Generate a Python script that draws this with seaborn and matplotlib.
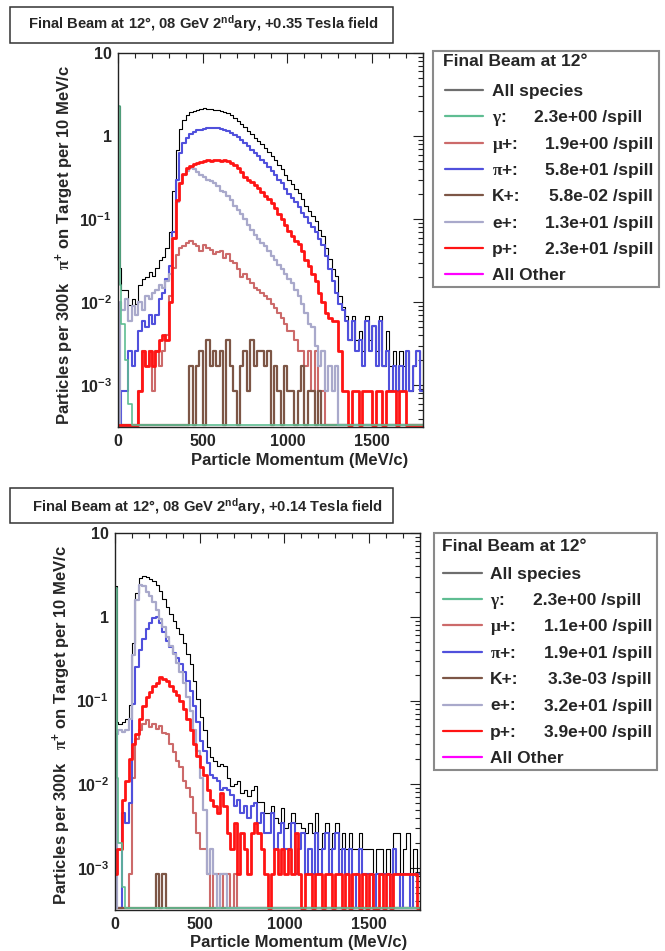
import numpy as np
import pandas as pd
import matplotlib
matplotlib.use("Agg")
import matplotlib.pyplot as plt
import seaborn as sns
from matplotlib import font_manager
from matplotlib.lines import Line2D
from matplotlib.patches import Rectangle
from matplotlib.ticker import FixedLocator, MultipleLocator, LogLocator, NullFormatter, FixedFormatter

# ---------------------------------------------------------------- data
# bin edges in MeV/c (first two bins 10 MeV wide, then 20 MeV)
EDGES = [0, 10] + list(range(20, 1801, 20))

SPECIES = ["All species", "γ:", "μ+:", "π+:", "K+:", "e+:", "p+:", "All Other"]
FIELDS = ["+0.35", "+0.14"]
RATES_035 = [2.3e+00, 1.9e+00, 5.8e+01, 5.8e-02, 1.3e+01, 2.3e+01]
RATES_014 = [2.3e+00, 1.1e+00, 1.9e+01, 3.3e-03, 3.2e+01, 3.9e+00]

XTICKS = [0, 500, 1000, 1500]
XTICKLABELS = ["0", "500", "1000", "1500"]
YTICKS = [1e-3, 1e-2, 1e-1, 1, 10]
YTICKLABELS = ["10$^{-3}$", "10$^{-2}$", "10$^{-1}$", "1", "10"]

# ---- +0.35 Tesla field
T35_ALL = [2.3, 0.026, 0.014, 0.014, 0.0092, 0.011, 0.0096, 0.016, 0.019, 0.020,
           0.023, 0.021, 0.026, 0.032, 0.035, 0.045, 0.07, 0.22, 0.68, 1.22,
           1.56, 1.79, 1.96, 2.03, 2.07, 2.1, 2.15, 2.14, 2.1, 2.09,
           2.05, 1.99, 1.96, 1.9, 1.78, 1.65, 1.54, 1.41, 1.27, 1.16,
           1.06, 0.96, 0.88, 0.80, 0.72, 0.65, 0.58, 0.52, 0.45, 0.40,
           0.34, 0.30, 0.264, 0.23, 0.205, 0.174, 0.146, 0.125, 0.108, 0.094,
           0.074, 0.062, 0.045, 0.033, 0.025, 0.021, 0.012, 0.0089, 0.0069, 0.0035,
           0.0069, 0.0035, 0.0045, 0.0026, 0.0069, 0.0035, 0.0052, 0.0026, 0.0069, 0.0017,
           0.0045, 0.0017, 0.0026, 0.00086, 0.0026, 0.0017, 0.0026, 0.00086, 0.0017, 0.0026,
           0.00086]
T35_GAMMA = [2.3, 0.016, 0.0055, 0.002, 0.0006, 0, 0, 0, 0, 0,
             0, 0, 0, 0, 0, 0, 0, 0, 0, 0,
             0, 0, 0, 0, 0, 0, 0, 0, 0, 0,
             0, 0, 0, 0, 0, 0, 0, 0, 0, 0,
             0, 0, 0, 0, 0, 0, 0, 0, 0, 0,
             0, 0, 0, 0, 0, 0, 0, 0, 0, 0,
             0, 0, 0, 0, 0, 0, 0, 0, 0, 0,
             0, 0, 0, 0, 0, 0, 0, 0, 0, 0,
             0, 0, 0, 0, 0, 0, 0, 0, 0, 0,
             0]
T35_MU = [0, 0, 0, 0, 0, 0, 0, 0.00086, 0.0026, 0.0017,
          0.0026, 0.00086, 0.0026, 0.0017, 0.0026, 0.004, 0.012, 0.026, 0.037, 0.045,
          0.048, 0.052, 0.055, 0.05, 0.047, 0.042, 0.049, 0.045, 0.043, 0.038,
          0.04, 0.041, 0.034, 0.038, 0.031, 0.03, 0.025, 0.02, 0.022, 0.019,
          0.017, 0.015, 0.014, 0.013, 0.012, 0.011, 0.0095, 0.0085, 0.0075, 0.0065,
          0.0055, 0.0045, 0.0045, 0.0035, 0.0026, 0.0026, 0.0017, 0.0026, 0.00086, 0.0026,
          0.00086, 0.00086, 0, 0, 0, 0, 0, 0, 0, 0,
          0, 0, 0, 0, 0, 0, 0, 0, 0, 0,
          0, 0, 0, 0, 0, 0, 0, 0, 0, 0,
          0]
T35_PI = [0, 0, 0.00086, 0.00086, 0.0026, 0.0017, 0.0026, 0.0045, 0.006, 0.005,
          0.007, 0.0055, 0.007, 0.011, 0.013, 0.019, 0.027, 0.07, 0.3, 0.62,
          0.82, 0.95, 1.05, 1.12, 1.17, 1.2, 1.23, 1.25, 1.24, 1.25,
          1.24, 1.22, 1.2, 1.16, 1.1, 1.03, 0.97, 0.9, 0.83, 0.76,
          0.69, 0.62, 0.57, 0.52, 0.47, 0.42, 0.38, 0.34, 0.3, 0.27,
          0.23, 0.2, 0.18, 0.16, 0.14, 0.12, 0.105, 0.09, 0.08, 0.07,
          0.058, 0.049, 0.036, 0.025, 0.018, 0.013, 0.0095, 0.008, 0.006, 0.0035,
          0.006, 0.0026, 0.0035, 0.0017, 0.006, 0.0026, 0.0052, 0.0017, 0.006, 0.0017,
          0.0026, 0.00086, 0.0017, 0.00086, 0.0017, 0.00086, 0.0026, 0.00086, 0.0017, 0.0026,
          0.00086]
T35_K = [0, 0, 0, 0, 0, 0, 0, 0, 0, 0,
         0, 0, 0, 0, 0, 0, 0, 0, 0, 0,
         0, 0, 0.0017, 0, 0.0017, 0.0026, 0, 0.0035, 0.0017, 0.0026,
         0.0017, 0.0026, 0, 0.0035, 0.0017, 0.00086, 0, 0.0017, 0.0026, 0.00086,
         0.0035, 0.0017, 0.0026, 0.0026, 0.0017, 0.0026, 0, 0.0017, 0.00086, 0,
         0.0017, 0.00086, 0.00086, 0, 0.00086, 0.0017, 0, 0.00086, 0.00086, 0,
         0.00086, 0, 0, 0, 0, 0, 0, 0, 0, 0,
         0, 0, 0, 0, 0, 0, 0, 0, 0, 0,
         0, 0, 0, 0, 0, 0, 0, 0, 0, 0,
         0]
T35_E = [0, 0.01, 0.008, 0.011, 0.006, 0.009, 0.007, 0.01, 0.008, 0.012,
         0.011, 0.013, 0.014, 0.016, 0.015, 0.018, 0.022, 0.06, 0.16, 0.27,
         0.34, 0.38, 0.41, 0.4, 0.37, 0.34, 0.32, 0.3, 0.29, 0.27,
         0.25, 0.22, 0.21, 0.19, 0.17, 0.145, 0.13, 0.115, 0.1, 0.085,
         0.075, 0.065, 0.058, 0.052, 0.047, 0.042, 0.036, 0.032, 0.028, 0.025,
         0.022, 0.019, 0.017, 0.014, 0.012, 0.0095, 0.0075, 0.0055, 0.005, 0.003,
         0.0017, 0.0026, 0.00086, 0.0017, 0.00086, 0.0017, 0, 0, 0, 0,
         0, 0, 0, 0, 0, 0, 0, 0, 0, 0,
         0, 0, 0, 0, 0, 0, 0, 0, 0, 0,
         0]
T35_P = [0, 0, 0, 0, 0, 0, 0, 0.00086, 0.0026, 0.0017,
         0.0026, 0.0017, 0.0026, 0.0035, 0.004, 0.0035, 0.01, 0.06, 0.17, 0.27,
         0.35, 0.41, 0.44, 0.46, 0.48, 0.49, 0.5, 0.51, 0.5, 0.52,
         0.51, 0.5, 0.52, 0.5, 0.48, 0.45, 0.41, 0.37, 0.32, 0.3,
         0.28, 0.26, 0.24, 0.21, 0.19, 0.175, 0.155, 0.135, 0.115, 0.1,
         0.085, 0.072, 0.062, 0.054, 0.05, 0.042, 0.032, 0.027, 0.022, 0.018,
         0.013, 0.01, 0.0075, 0.0065, 0.006, 0.006, 0.0026, 0.00086, 0.00086, 0,
         0.00086, 0.00086, 0, 0.00086, 0.00086, 0.00086, 0, 0.00086, 0.00086, 0,
         0.00086, 0.00086, 0.00086, 0, 0.00086, 0.00086, 0, 0, 0, 0,
         0]

# ---- +0.14 Tesla field
T14_ALL = [2.3, 0.055, 0.052, 0.055, 0.06, 0.088, 0.48, 1.93, 2.9, 3.05,
           2.95, 2.8, 2.67, 2.42, 2.05, 1.63, 1.31, 1.07, 0.89, 0.74,
           0.62, 0.48, 0.36, 0.27, 0.17, 0.105, 0.063, 0.045, 0.028, 0.021,
           0.019, 0.0165, 0.0175, 0.0165, 0.012, 0.0095, 0.01, 0.011, 0.0078, 0.0085,
           0.0072, 0.0085, 0.0095, 0.0062, 0.0062, 0.0045, 0.0045, 0.0055, 0.004, 0.0035,
           0.0052, 0.003, 0.0035, 0.0045, 0.0035, 0.0035, 0.003, 0.0026, 0.0035, 0.0026,
           0.0045, 0.0017, 0.0026, 0.0035, 0.0017, 0.0026, 0.0035, 0.0017, 0.0026, 0.0017,
           0.0026, 0.0017, 0.0017, 0.0026, 0.0017, 0.0017, 0.0017, 0.00086, 0.0017, 0.0017,
           0.00086, 0.0017, 0.00086, 0.0026, 0.0026, 0.00086, 0.0017, 0.0026, 0.00086, 0.0017,
           0.00086]
T14_GAMMA = [2.2, 0.012, 0.002, 0.0006, 0, 0, 0, 0, 0, 0,
             0, 0, 0, 0, 0, 0, 0, 0, 0, 0,
             0, 0, 0, 0, 0, 0, 0, 0, 0, 0,
             0, 0, 0, 0, 0, 0, 0, 0, 0, 0,
             0, 0, 0, 0, 0, 0, 0, 0, 0, 0,
             0, 0, 0, 0, 0, 0, 0, 0, 0, 0,
             0, 0, 0, 0, 0, 0, 0, 0, 0, 0,
             0, 0, 0, 0, 0, 0, 0, 0, 0, 0,
             0, 0, 0, 0, 0, 0, 0, 0, 0, 0,
             0]
T14_MU = [0, 0, 0, 0, 0, 0.00086, 0.012, 0.035, 0.045, 0.052,
          0.058, 0.048, 0.053, 0.046, 0.05, 0.041, 0.04, 0.03, 0.024, 0.019,
          0.016, 0.011, 0.009, 0.007, 0.0045, 0.0026, 0.0017, 0.0017, 0.00086, 0,
          0.00086, 0.00086, 0, 0.00086, 0.00086, 0, 0.00086, 0, 0, 0,
          0, 0, 0, 0, 0, 0, 0, 0, 0, 0,
          0, 0, 0, 0, 0, 0, 0, 0, 0, 0,
          0, 0, 0, 0, 0, 0, 0, 0, 0, 0,
          0, 0, 0, 0, 0, 0, 0, 0, 0, 0,
          0, 0, 0, 0, 0, 0, 0, 0, 0, 0,
          0]
T14_PI = [0, 0, 0, 0.0045, 0.0035, 0.006, 0.09, 0.25, 0.4, 0.55,
          0.72, 0.85, 0.97, 1.0, 0.85, 0.65, 0.52, 0.43, 0.37, 0.32,
          0.27, 0.22, 0.17, 0.13, 0.085, 0.055, 0.033, 0.025, 0.018, 0.013,
          0.012, 0.011, 0.0085, 0.009, 0.0085, 0.0075, 0.0055, 0.0065, 0.0045, 0.0055,
          0.004, 0.0055, 0.006, 0.0035, 0.0045, 0.0026, 0.0026, 0.0045, 0.0017, 0.0026,
          0.0035, 0.0017, 0.0017, 0.0035, 0.00086, 0.0017, 0.0026, 0.00086, 0.0017, 0.00086,
          0.0026, 0.00086, 0.0017, 0.0026, 0.00086, 0.0017, 0.0026, 0.00086, 0.0017, 0.00086,
          0.0017, 0, 0.00086, 0.0017, 0.00086, 0.00086, 0.00086, 0, 0.00086, 0.00086,
          0.00086, 0.00086, 0, 0.0017, 0.00086, 0, 0.00086, 0.00086, 0, 0.00086,
          0.00086]
T14_K = [0, 0, 0, 0, 0, 0, 0, 0, 0, 0,
         0, 0, 0, 0.00086, 0, 0.00086, 0, 0, 0, 0,
         0, 0, 0, 0, 0, 0, 0, 0, 0, 0,
         0, 0, 0, 0, 0, 0, 0, 0, 0, 0,
         0, 0, 0, 0, 0, 0, 0, 0, 0, 0,
         0, 0, 0, 0, 0, 0, 0, 0, 0, 0,
         0, 0, 0, 0, 0, 0, 0, 0, 0, 0,
         0, 0, 0, 0, 0, 0, 0, 0, 0, 0,
         0, 0, 0, 0, 0, 0, 0, 0, 0, 0,
         0]
T14_E = [0, 0.04, 0.045, 0.042, 0.045, 0.06, 0.35, 1.6, 2.4, 2.35,
         2.0, 1.75, 1.5, 1.2, 0.95, 0.75, 0.58, 0.45, 0.36, 0.28,
         0.22, 0.16, 0.11, 0.075, 0.045, 0.025, 0.012, 0.005, 0.00086, 0.0017,
         0.00086, 0, 0.00086, 0.00086, 0, 0, 0, 0, 0, 0,
         0, 0, 0, 0, 0, 0, 0, 0, 0, 0,
         0, 0, 0, 0, 0, 0, 0, 0, 0, 0,
         0, 0, 0, 0, 0, 0, 0, 0, 0, 0,
         0, 0, 0, 0, 0, 0, 0, 0, 0, 0,
         0, 0, 0, 0, 0, 0, 0, 0, 0, 0,
         0]
T14_P = [0.00086, 0.0017, 0.0017, 0.0065, 0.011, 0.02, 0.03, 0.04, 0.06, 0.085,
         0.11, 0.125, 0.15, 0.16, 0.19, 0.18, 0.17, 0.15, 0.13, 0.115,
         0.1, 0.08, 0.06, 0.045, 0.03, 0.022, 0.016, 0.013, 0.0085, 0.0065,
         0.0055, 0.0045, 0.0078, 0.0055, 0.0026, 0.0017, 0.0035, 0.00086, 0.0026, 0.0017,
         0.00086, 0.0026, 0.0035, 0.0026, 0.0017, 0.00086, 0, 0.00086, 0.0017, 0.00086,
         0.0017, 0.00086, 0.0017, 0.00086, 0.0026, 0.00086, 0, 0.00086, 0.00086, 0,
         0.00086, 0.00086, 0, 0.00086, 0.00086, 0, 0.00086, 0.00086, 0, 0.00086,
         0, 0.00086, 0.00086, 0, 0.00086, 0, 0.00086, 0, 0, 0.00086,
         0, 0.00086, 0, 0.00086, 0.00086, 0.00086, 0.00086, 0.00086, 0.00086, 0.00086,
         0]

# ---------------------------------------------------------------- style
COLORS = ["#000000", "#5fbd92", "#cc6a6a", "#5050dc", "#7d5646", "#a9a9cb", "#ff1414", "#ff00ff"]
LINE_W = [0.8, 1.2, 1.5, 1.5, 1.6, 1.6, 2.0, 1.5]
LEGEND_COLORS = ["#6e6e6e"] + COLORS[1:]
DRAW_ORDER = [0, 2, 3, 4, 5, 6, 1]

sns.set_style("white")
plt.rcParams["font.family"] = ["Liberation Sans", "DejaVu Sans"]
plt.rcParams["font.weight"] = "bold"
plt.rcParams["mathtext.fontset"] = "custom"
plt.rcParams["mathtext.rm"] = "Liberation Sans:bold"
plt.rcParams["mathtext.bf"] = "Liberation Sans:bold"
plt.rcParams["mathtext.it"] = "Liberation Serif"
plt.rcParams["mathtext.default"] = "rm"

# the title of the original uses a condensed bold face
_names = {f.name for f in font_manager.fontManager.ttflist}
if "Liberation Sans Narrow" in _names:
    TITLE_FONT = dict(family=["Liberation Sans Narrow", "Liberation Sans"], fontsize=13)
else:
    TITLE_FONT = dict(family=["Liberation Sans", "DejaVu Sans"], fontsize=10.6)

W, H = 665, 951
fig = plt.figure(figsize=(W / 100, H / 100), dpi=100)


def fx(x):
    return x / W


def fy(y):
    return 1 - y / H


def rect(x0, y0, x1, y1):
    return [fx(x0), fy(y1), (x1 - x0) / W, (y1 - y0) / H]


GREEK = {"γ": r"$\mathit{\gamma}$", "μ": r"$\mathit{\mu}$", "π": r"$\mathit{\pi}$"}


def tex_label(s):
    return "".join(GREEK.get(c, c) for c in s)


centers = (np.array(EDGES[:-1], float) + np.array(EDGES[1:], float)) / 2
YMIN, YMAX = 10 ** -3.5, 10.0
FLOOR = 10 ** -3.475   # empty bins are drawn along the bottom, as in the original

PANELS = [
    dict(series=[T35_ALL, T35_GAMMA, T35_MU, T35_PI, T35_K, T35_E, T35_P],
         rates=RATES_035, field=FIELDS[0],
         ax=(118, 53, 423, 427), tbox=(10, 7, 393, 43), tx=28, tbase=28.3,
         leg=(433, 51, 659, 287), head=(443, 66), row0=96, dy=26.3,
         sample=(445, 483), labx=492, valr=653, valr_g=642,
         ylab=(70, 65), xlab=(408, 465)),
    dict(series=[T14_ALL, T14_GAMMA, T14_MU, T14_PI, T14_K, T14_E, T14_P],
         rates=RATES_014, field=FIELDS[1],
         ax=(115, 533, 420, 910), tbox=(10, 488, 393, 523), tx=32, tbase=511.7,
         leg=(434, 533, 657, 770), head=(442, 551), row0=578.5, dy=26.4,
         sample=(443, 482), labx=490, valr=652, valr_g=641,
         ylab=(66.7, 545), xlab=(407, 946.7)),
]

for P in PANELS:
    ax = fig.add_axes(rect(*P["ax"]))
    for i in DRAW_ORDER:
        vals = np.array(P["series"][i], float)
        df = pd.DataFrame({"p": centers, "w": np.where(vals > 0, vals, FLOOR)})
        sns.histplot(data=df, x="p", weights="w", bins=EDGES, element="step",
                     fill=False, color=COLORS[i], linewidth=LINE_W[i], ax=ax,
                     legend=False)
    ax.set_yscale("log")
    ax.set_xlim(0, 1800)
    ax.set_ylim(YMIN, YMAX)
    ax.set_xlabel("")
    ax.set_ylabel("")
    ax.xaxis.set_major_locator(FixedLocator(XTICKS))
    ax.xaxis.set_major_formatter(FixedFormatter(XTICKLABELS))
    ax.xaxis.set_minor_locator(MultipleLocator(100))
    ax.yaxis.set_major_locator(FixedLocator(YTICKS))
    ax.yaxis.set_major_formatter(FixedFormatter(YTICKLABELS))
    ax.yaxis.set_minor_locator(LogLocator(base=10, subs=np.arange(2, 10), numticks=30))
    ax.yaxis.set_minor_formatter(NullFormatter())
    ax.tick_params(which="both", direction="in", top=True, right=True,
                   width=0.8, color="#222222", labelsize=11.5)
    ax.tick_params(which="major", length=7.5)
    ax.tick_params(which="minor", length=3.8)
    ax.tick_params(axis="y", pad=4.5)
    ax.tick_params(axis="x", pad=5)
    for s in ax.spines.values():
        s.set_color("#222222")
        s.set_linewidth(1.0)

    # title box
    x0, y0, x1, y1 = P["tbox"]
    fig.add_artist(Rectangle((fx(x0), fy(y1)), (x1 - x0) / W, (y1 - y0) / H,
                             transform=fig.transFigure, facecolor="white",
                             edgecolor="#333333", linewidth=1.1))
    fig.text(fx(P["tx"]), fy(P["tbase"]),
             "Final Beam at 12°, 08 GeV 2$^{nd}$ary, " + P["field"] + " Tesla field",
             ha="left", va="baseline", fontweight="bold", **TITLE_FONT)

    # axis titles
    fig.text(fx(P["ylab"][0]), fy(P["ylab"][1]),
             r"Particles per 300k   $\mathit{\pi}^{+}$ on Target per 10 MeV/c",
             rotation=90, rotation_mode="anchor", ha="right", va="baseline",
             fontsize=12, fontweight="bold")
    fig.text(fx(P["xlab"][0]), fy(P["xlab"][1]), "Particle Momentum (MeV/c)",
             ha="right", va="baseline", fontsize=12, fontweight="bold")

    # legend box
    x0, y0, x1, y1 = P["leg"]
    fig.add_artist(Rectangle((fx(x0), fy(y1)), (x1 - x0) / W, (y1 - y0) / H,
                             transform=fig.transFigure, facecolor="white",
                             edgecolor="#8a8a8a", linewidth=1.5))
    fig.text(fx(P["head"][0]), fy(P["head"][1]), "Final Beam at 12°",
             ha="left", va="baseline", fontsize=12.5, fontweight="bold")
    for i, name in enumerate(SPECIES):
        base = P["row0"] + i * P["dy"]
        ymid = base - 6
        fig.add_artist(Line2D([fx(P["sample"][0]), fx(P["sample"][1])], [fy(ymid), fy(ymid)],
                              transform=fig.transFigure, color=LEGEND_COLORS[i],
                              linewidth=1.6))
        fig.text(fx(P["labx"]), fy(base), tex_label(name), ha="left", va="baseline",
                 fontsize=12.5, fontweight="bold")
        if 1 <= i <= 6:
            r = P["rates"][i - 1]
            xr = P["valr_g"] if i == 1 else P["valr"]
            fig.text(fx(xr), fy(base), f"{r:.1e} /spill", ha="right", va="baseline",
                     fontsize=12.5, fontweight="bold")

fig.savefig("out.png", dpi=100)
